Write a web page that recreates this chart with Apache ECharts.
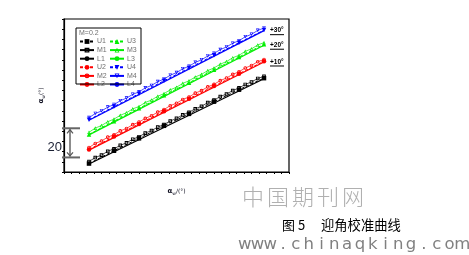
<!DOCTYPE html>
<html><head><meta charset="utf-8">
<script src="https://cdn.jsdelivr.net/npm/echarts@6/dist/echarts.min.js"></script>
<style>html,body{margin:0;padding:0;background:#fff}#c{width:469px;height:255px}</style>
</head><body><div id="c"></div>
<script>
// ---- data ----
const xU = [10, 20, 30, 40, 50, 60, 70, 80];
const xM = [10, 12.5, 15, 17.5, 20, 22.5, 25, 27.5, 30, 32.5, 35, 37.5, 40, 42.5, 45, 47.5, 50, 52.5, 55, 57.5, 60, 62.5, 65, 67.5, 70, 72.5, 75, 77.5, 80];
const xL = [10, 80];

const U1 = [5.8, 14.6, 23.1, 31.7, 39.9, 48.3, 56.5, 64.4];
const U2 = [15.5, 24.3, 33.0, 41.7, 50.3, 59.0, 67.5, 76.0];
const U3 = [25.8, 34.9, 43.7, 52.6, 61.3, 70.2, 78.9, 87.6];
const U4 = [35.8, 44.9, 53.7, 62.6, 71.3, 80.1, 88.7, 97.4];

const M1 = [7.2, 9.9, 11.6, 14.2, 15.9, 18.3, 20.0, 22.5, 24.2, 26.7, 28.4, 30.8, 32.6, 35.0, 36.8, 39.2, 41.0, 43.4, 45.1, 47.6, 49.3, 51.8, 53.5, 55.9, 57.7, 60.1, 61.8, 64.2, 65.6];
const M2 = [16.8, 19.6, 21.3, 23.9, 25.6, 28.2, 29.9, 32.5, 34.3, 36.8, 38.6, 41.1, 42.9, 45.5, 47.2, 49.8, 51.5, 54.1, 55.9, 58.4, 60.2, 62.7, 64.5, 67.0, 68.8, 71.4, 73.1, 75.7, 77.2];
const M3 = [27.3, 30.1, 31.9, 34.5, 36.3, 38.9, 40.7, 43.3, 45.0, 47.7, 49.4, 52.0, 53.8, 56.4, 58.2, 60.8, 62.6, 65.2, 67.0, 69.6, 71.4, 74.0, 75.8, 78.4, 80.1, 82.8, 84.5, 87.2, 88.8];
const M4 = [37.3, 40.1, 41.9, 44.5, 46.3, 48.9, 50.7, 53.3, 55.0, 57.7, 59.4, 62.0, 63.8, 66.4, 68.2, 70.8, 72.6, 75.2, 77.0, 79.6, 81.4, 84.0, 85.8, 88.4, 90.1, 92.8, 94.5, 97.2, 98.8];

const L1 = [5.5, 64.0];
const L2 = [15.0, 75.5];
const L3 = [25.5, 87.0];
const L4 = [35.5, 97.0];

const legendLeft = ['U1', 'M1', 'L1', 'U2', 'M2', 'L2'];
const legendRight = ['U3', 'M3', 'L3', 'U4', 'M4', 'L4'];
const legendTitle = 'M=0.2';
const offsetLabels = ['+10°', '+20°', '+30°'];
const scaleBar = [10, 30];
const scaleBarText = '20';
const watermark1 = '中国期刊网';
const captionA = '图 5';
const captionB = '迎角校准曲线';
const watermark2 = 'www.chinaqking.com';

// ---- build ----
const pairs = (xs, ys) => xs.map((x, i) => [x, ys[i]]);
const colors = ['#000000', '#ff0000', '#00ee00', '#0000ff'];
const fillSym = ['rect', 'circle', 'triangle', 'triangle'];
const ringSq = 'path://M0,0L10,0L10,10L0,10Z M2.6,2.6L2.6,7.4L7.4,7.4L7.4,2.6Z';
const ringCi = 'path://M5,0A5,5 0 1,1 5,10A5,5 0 1,1 5,0Z M5,2.5A2.5,2.5 0 1,0 5,7.5A2.5,2.5 0 1,0 5,2.5Z';
const ringTr = 'path://M5,0L10,10L0,10Z M5,3.8L2.7,8.4L7.3,8.4Z';
const emptySym = [ringSq, ringCi, ringTr, ringTr];
const rot = [0, 0, 0, 180];
const Us = [U1, U2, U3, U4], Ms = [M1, M2, M3, M4], Ls = [L1, L2, L3, L4];

const series = [];
for (let i = 0; i < 4; i++) {
  series.push({
    name: 'M' + (i + 1), type: 'line', data: pairs(xM, Ms[i]),
    symbol: emptySym[i], symbolSize: 3.6, symbolRotate: rot[i], showAllSymbol: true,
    lineStyle: { color: colors[i], width: 0.7 },
    itemStyle: { color: colors[i], borderWidth: 0 },
    animation: false, z: 2
  });
  series.push({
    name: 'U' + (i + 1), type: 'line', data: pairs(xU, Us[i]),
    symbol: fillSym[i], symbolSize: 4.5, symbolRotate: rot[i],
    lineStyle: { color: colors[i], width: 1, type: [3, 2] },
    itemStyle: { color: colors[i] },
    animation: false, z: 3
  });
  series.push({
    name: 'L' + (i + 1), type: 'line', data: pairs(xL, Ls[i]),
    symbol: 'none', lineStyle: { color: colors[i], width: 1.3 },
    itemStyle: { color: colors[i] },
    animation: false, z: 4
  });
}

const legendCommon = {
  orient: 'vertical', top: 38, itemWidth: 14, itemHeight: 6, itemGap: 1.6, padding: 0,
  textStyle: { fontSize: 7, lineHeight: 6, color: '#707070', fontFamily: 'Liberation Sans', padding: [0, 0, 0, -2] }
};

const chart = echarts.init(document.getElementById('c'), null, { renderer: 'canvas' });
chart.setOption({
  animation: false,
  backgroundColor: '#fff',
  grid: { left: 64, top: 19, width: 225, height: 153, show: true, borderColor: '#000', borderWidth: 1.2 },
  legend: [
    Object.assign({}, legendCommon, { left: 79, data: legendLeft }),
    Object.assign({}, legendCommon, { left: 109, data: legendRight })
  ],
  xAxis: {
    type: 'value', min: 0, max: 90, interval: 3,
    axisLabel: { show: false }, splitLine: { show: false },
    axisTick: { show: true, length: 2, lineStyle: { color: '#000' } },
    axisLine: { lineStyle: { color: '#000', width: 1.2 } },
    name: '{a|α}{s|w}{b|/(°)}', nameLocation: 'middle', nameGap: 14,
    nameTextStyle: { color: '#112', fontFamily: 'DejaVu Sans', rich: {
      a: { fontSize: 7, fontWeight: 'bold' }, s: { fontSize: 4.5, padding: [5, 0, 0, 0] }, b: { fontSize: 6 } } }
  },
  yAxis: {
    type: 'value', min: 0, max: 105, interval: 7,
    axisLabel: { show: false }, splitLine: { show: false },
    axisTick: { show: true, length: 2, lineStyle: { color: '#000' } },
    axisLine: { lineStyle: { color: '#000', width: 1.2 } },
    name: '{a|α}{s|w}{b|(°)}', nameLocation: 'middle', nameGap: 18, nameRotate: 90,
    nameTextStyle: { color: '#112', fontFamily: 'DejaVu Sans', rich: {
      a: { fontSize: 7, fontWeight: 'bold' }, s: { fontSize: 4.5, padding: [5, 0, 0, 0] }, b: { fontSize: 6 } } }
  },
  series: series
});

// ---- annotations placed through the chart's own scales ----
const P = (x, y) => chart.convertToPixel({ gridIndex: 0 }, [x, y]);
const g = [];
g.push({ type: 'rect', shape: { x: 76, y: 28, width: 65, height: 56 }, style: { fill: 'none', stroke: '#000', lineWidth: 1 }, z: 10 });
g.push({ type: 'text', x: 79, y: 33, style: { text: legendTitle, fontSize: 7, fill: '#707070', fontFamily: 'Liberation Sans', verticalAlign: 'middle' }, z: 10 });
[L2, L3, L4].forEach((L, i) => {
  const p = P(xL[1], L[1]);
  g.push({ type: 'text', x: p[0] + 6, y: p[1], style: { text: offsetLabels[i], fontSize: 6.5, fontWeight: 'bold', fill: '#000', fontFamily: 'Liberation Sans', verticalAlign: 'middle' }, z: 10 });
  g.push({ type: 'line', shape: { x1: p[0] + 6, y1: p[1] + 4, x2: p[0] + 20, y2: p[1] + 4 }, style: { stroke: '#000', lineWidth: 1 }, z: 10 });
});
const pb = P(0, scaleBar[0]), pt = P(0, scaleBar[1]);
const x0 = pb[0];
[pb[1], pt[1]].forEach(y => g.push({ type: 'line', shape: { x1: x0 - 2, y1: y, x2: x0 + 16, y2: y }, style: { stroke: '#666', lineWidth: 2 }, z: 10 }));
const ax = x0 + 6;
g.push({ type: 'line', shape: { x1: ax, y1: pt[1] + 1, x2: ax, y2: pb[1] - 1 }, style: { stroke: '#666', lineWidth: 1.5 }, z: 10 });
g.push({ type: 'polyline', shape: { points: [[ax - 3, pt[1] + 5], [ax, pt[1] + 1.5], [ax + 3, pt[1] + 5]] }, style: { stroke: '#555', fill: 'none', lineWidth: 1.2 }, z: 10 });
g.push({ type: 'polyline', shape: { points: [[ax - 3, pb[1] - 5], [ax, pb[1] - 1.5], [ax + 3, pb[1] - 5]] }, style: { stroke: '#555', fill: 'none', lineWidth: 1.2 }, z: 10 });
g.push({ type: 'text', x: x0 - 2, y: (pb[1] + pt[1]) / 2 + 5, style: { text: scaleBarText, fontSize: 13, fill: '#1a1f33', fontFamily: 'Liberation Sans', align: 'right', verticalAlign: 'middle' }, z: 10 });
Array.from(watermark1).forEach((ch, i) => g.push({ type: 'text', x: 253 + i * 25, y: 197, style: { text: ch, fontSize: 22, fontWeight: 300, fill: '#b0b0b0', fontFamily: 'Noto Sans CJK SC', align: 'center', verticalAlign: 'middle' } }));
g.push({ type: 'text', x: 282, y: 225, style: { text: captionA, fontSize: 13, fill: '#000', fontFamily: 'Noto Sans CJK SC', verticalAlign: 'middle' } });
g.push({ type: 'text', x: 321, y: 225, style: { text: captionB, fontSize: 13.3, fill: '#000', fontFamily: 'Noto Sans CJK SC', verticalAlign: 'middle' } });
Array.from(watermark2).forEach((ch, i) => g.push({ type: 'text', x: 244.7 + i * 12.8, y: 245, style: { text: ch, fontSize: 16.5, fill: '#808080', fontFamily: 'DejaVu Sans', align: 'center', verticalAlign: 'middle' } }));
chart.setOption({ graphic: g });
</script></body></html>
